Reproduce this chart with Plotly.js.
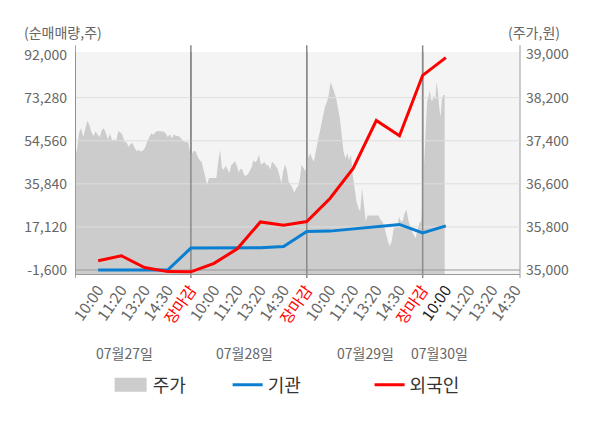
<!DOCTYPE html>
<html>
<head>
<meta charset="utf-8">
<script src="https://cdn.plot.ly/plotly-3.0.1.min.js"></script>
<style>
  html, body { margin: 0; padding: 0; background: #fff; }
  #plot { width: 600px; height: 428px; }
</style>
</head>
<body>
<div id="plot"></div>
<script>
// 시간 라벨 (하루 5칸), 날짜
var timeLabels = ['10:00', '11:20', '13:20', '14:30', '장마감']
var dayLabels = ['07월27일', '07월28일', '07월29일', '07월30일']

// 순매매량 (주) - 시간 라벨마다 한 점
var institution = [-1600, -1600, -1600, -1600, 7930, 7950, 8000, 8100, 8600, 15100,
                   15300, 16300, 17100, 18200, 14560, 17600]
var foreigner = [2430, 4600, -500, -2300, -2400, 1300, 7600, 19300, 17900, 19450,
                 29500, 42500, 63370, 56700, 83000, 90700]

// 주가 (원) - 장중 흐름
var priceDay1 = [37070, 37250, 37560, 37630, 37470, 37630, 37770, 37690, 37560, 37490,
                 37570, 37510, 37470, 37600, 37630, 37540, 37430, 37530, 37410, 37430,
                 37400, 37570, 37560, 37510, 37380, 37370, 37290, 37340, 37360, 37260,
                 37210, 37230, 37200, 37220, 37270, 37380, 37470, 37540, 37510, 37560,
                 37580, 37580, 37580, 37570, 37540, 37470, 37520, 37440, 37520, 37490,
                 37490, 37470, 37420, 37380, 37370, 37370]
var priceDay2 = [37140, 37170, 37220, 37190, 37100, 37040, 37010, 36890, 36730, 36580,
                 36710, 36710, 36710, 36710, 36710, 37010, 37230, 36890, 36860, 36940,
                 36860, 36800, 36940, 36980, 37020, 36940, 36810, 36880, 36860, 36760,
                 36750, 36780, 36840, 36910, 37040, 37000, 37040, 37140, 36960, 36980,
                 37000, 36940, 36950, 36860, 37010, 36980, 36920, 36880, 36760, 36610,
                 36830, 36960, 36860, 36640, 36580, 36530, 36430, 36520, 36550, 36690,
                 36960, 36900, 36830]
var priceDay3 = [37010, 37100, 37170, 37070, 37010, 37200, 37380, 37570, 37690, 37880,
                 38030, 38120, 38250, 38490, 38400, 38310, 38190, 38000, 37820, 37510,
                 37200, 37070, 37170, 37040, 37140, 36760, 36520, 36270, 36150, 36090,
                 36520, 36150, 35900, 36010, 36010, 36010, 36010, 36010, 36010, 36010,
                 35930, 35900, 35810, 35650, 35530, 35440, 35530, 35750, 35810, 35780,
                 35990, 35900, 35910, 36060, 36120, 35930, 35810, 35710, 35650, 35590,
                 35750, 35870, 35910]
var priceDay4 = [36580, 37010, 37380, 38140, 38220, 38340, 38150, 38150, 38250, 38150,
                 38490, 38310, 38000, 37840, 38190, 38250, 38250]

// 장 시작/끝 위치 (x축 칸 단위)
var sessionStart = [0, 4.98, 9.99, 15.02]
var sessionEnd = [4.89, 9.94, 14.94, 15.95]

var leftTicks = [-1600, 17120, 35840, 54560, 73280, 92000]
var rightTicks = [35000, 35800, 36600, 37400, 38200, 39000]

var xMax = 19.2
var leftRange = [-3333, 93130]
var rightRange = [34926, 39048]

function fmt(v) { return v.toLocaleString('en-US') }

// x축 눈금
var tickvals = [], ticktext = []
for (var d = 0; d < dayLabels.length; d++) {
    for (var k = 0; k < timeLabels.length; k++) {
        var pos = d * 5 + k + 1
        if (pos > 19) break
        var t = timeLabels[k]
        if (t == '장마감') t = '<span style="color:#ff0000">' + t + '</span>'
        else if (d == 3 && k == 0) t = '<span style="color:#222">' + t + '</span>'
        tickvals.push(pos)
        ticktext.push(t)
    }
}

var flowX = institution.map(function (v, i) { return i + 1 })

var priceX = [], priceY = []
var days = [priceDay1, priceDay2, priceDay3, priceDay4]
days.forEach(function (arr, d) {
    var step = (sessionEnd[d] - sessionStart[d]) / (arr.length - 1)
    arr.forEach(function (v, j) {
        priceX.push(sessionStart[d] + j * step)
        priceY.push(v)
    })
})

// 가로 보조선 (주가 영역 위에 그림)
var gridX = [], gridY = []
leftTicks.slice(1, -1).forEach(function (t) {
    gridX.push(0, xMax, null)
    gridY.push(t, t, null)
})

// 날짜 구분선
var sepX = [], sepY = []
;[0, 5, 10, 15].forEach(function (s) {
    sepX.push(s, s, null)
    sepY.push(leftRange[0], leftRange[1], null)
})

var data = [
    {
        x: priceX, y: priceY, yaxis: 'y', type: 'scatter', mode: 'lines',
        fill: 'tozeroy', fillcolor: '#cccccc', line: {width: 0, color: '#cccccc'},
        name: '주가', legend: 'legend', hoverinfo: 'skip'
    },
    {
        x: gridX, y: gridY, yaxis: 'y2', type: 'scatter', mode: 'lines',
        line: {width: 1, color: '#dedede'}, showlegend: false, hoverinfo: 'skip'
    },
    {
        x: [0, xMax], y: [leftTicks[0], leftTicks[0]], yaxis: 'y2', type: 'scatter', mode: 'lines',
        line: {width: 1, color: '#999999'}, showlegend: false, hoverinfo: 'skip'
    },
    {
        x: sepX, y: sepY, yaxis: 'y2', type: 'scatter', mode: 'lines',
        line: {width: 1.5, color: '#8a8a8a'}, showlegend: false, hoverinfo: 'skip'
    },
    {
        x: flowX, y: institution, yaxis: 'y2', type: 'scatter', mode: 'lines',
        line: {width: 3, color: '#0a7fd2'}, name: '기관', legend: 'legend2'
    },
    {
        x: flowX, y: foreigner, yaxis: 'y2', type: 'scatter', mode: 'lines',
        line: {width: 3, color: '#ff0000'}, name: '외국인', legend: 'legend3'
    }
]

var legendBase = {
    orientation: 'h', y: -0.5, yanchor: 'middle', xanchor: 'left',
    font: {size: 18, color: '#333'}, bgcolor: 'rgba(0,0,0,0)', borderwidth: 0
}

var shapes = [0, 5, 10, 15].map(function (s) {
    return {type: 'line', layer: 'below', xref: 'x', yref: 'paper', x0: s, x1: s,
            y0: -0.018, y1: 1.03, line: {color: '#8a8a8a', width: 1.5}}
})
shapes.push({type: 'line', layer: 'below', xref: 'paper', yref: 'paper', x0: 1, x1: 1,
             y0: -0.018, y1: 1.03, line: {color: '#bbbbbb', width: 1.5}})

var dayLabelX = [2.14, 7.32, 12.55, 15.74]
var annotations = dayLabels.map(function (t, i) {
    return {text: t, xref: 'x', yref: 'paper', x: dayLabelX[i], y: -0.41,
            showarrow: false, font: {size: 14, color: '#666'}}
})
annotations.push({text: '(순매매량,주)', xref: 'paper', yref: 'paper', x: -0.12, y: 1.09,
                  xanchor: 'left', yanchor: 'middle', showarrow: false, font: {size: 14, color: '#666'}})
annotations.push({text: '(주가,원)', xref: 'paper', yref: 'paper', x: 1.094, y: 1.09,
                  xanchor: 'right', yanchor: 'middle', showarrow: false, font: {size: 14, color: '#666'}})

var layout = {
    width: 600, height: 428,
    margin: {l: 75, r: 80, t: 52, b: 154},
    paper_bgcolor: '#ffffff', plot_bgcolor: '#f4f4f4',
    font: {family: '"Noto Sans CJK KR", "Noto Sans", sans-serif', color: '#666', size: 14},
    showlegend: true,
    xaxis: {
        range: [0, xMax], tickmode: 'array', tickvals: tickvals, ticktext: ticktext,
        tickangle: -55, showgrid: false, zeroline: false, ticks: '',
        showline: true, linecolor: '#999', linewidth: 1,
        tickfont: {size: 15.5, color: '#666'}
    },
    yaxis: {
        range: rightRange, side: 'right', tickmode: 'array', tickvals: rightTicks,
        ticktext: rightTicks.map(fmt), showgrid: false, zeroline: false, showline: false,
        ticks: '', ticklabelstandoff: 5, tickfont: {size: 14, color: '#666'}
    },
    yaxis2: {
        range: leftRange, overlaying: 'y', side: 'left', tickmode: 'array', tickvals: leftTicks,
        ticktext: leftTicks.map(fmt), showgrid: false, zeroline: false, showline: false,
        ticks: '', ticklabelstandoff: 7, tickfont: {size: 14, color: '#666'}
    },
    legend: Object.assign({}, legendBase, {x: 0.0846}),
    legend2: Object.assign({}, legendBase, {x: 0.343}),
    legend3: Object.assign({}, legendBase, {x: 0.662}),
    shapes: shapes,
    annotations: annotations
}

Plotly.newPlot('plot', data, layout, {staticPlot: true, displayModeBar: false}).then(function (gd) {
    // 범례의 주가 기호를 네모로
    gd.querySelectorAll('.legend .js-fill').forEach(function (p) {
        p.setAttribute('d', 'M2,-7h32v14h-32z')
    })
})
</script>
</body>
</html>
